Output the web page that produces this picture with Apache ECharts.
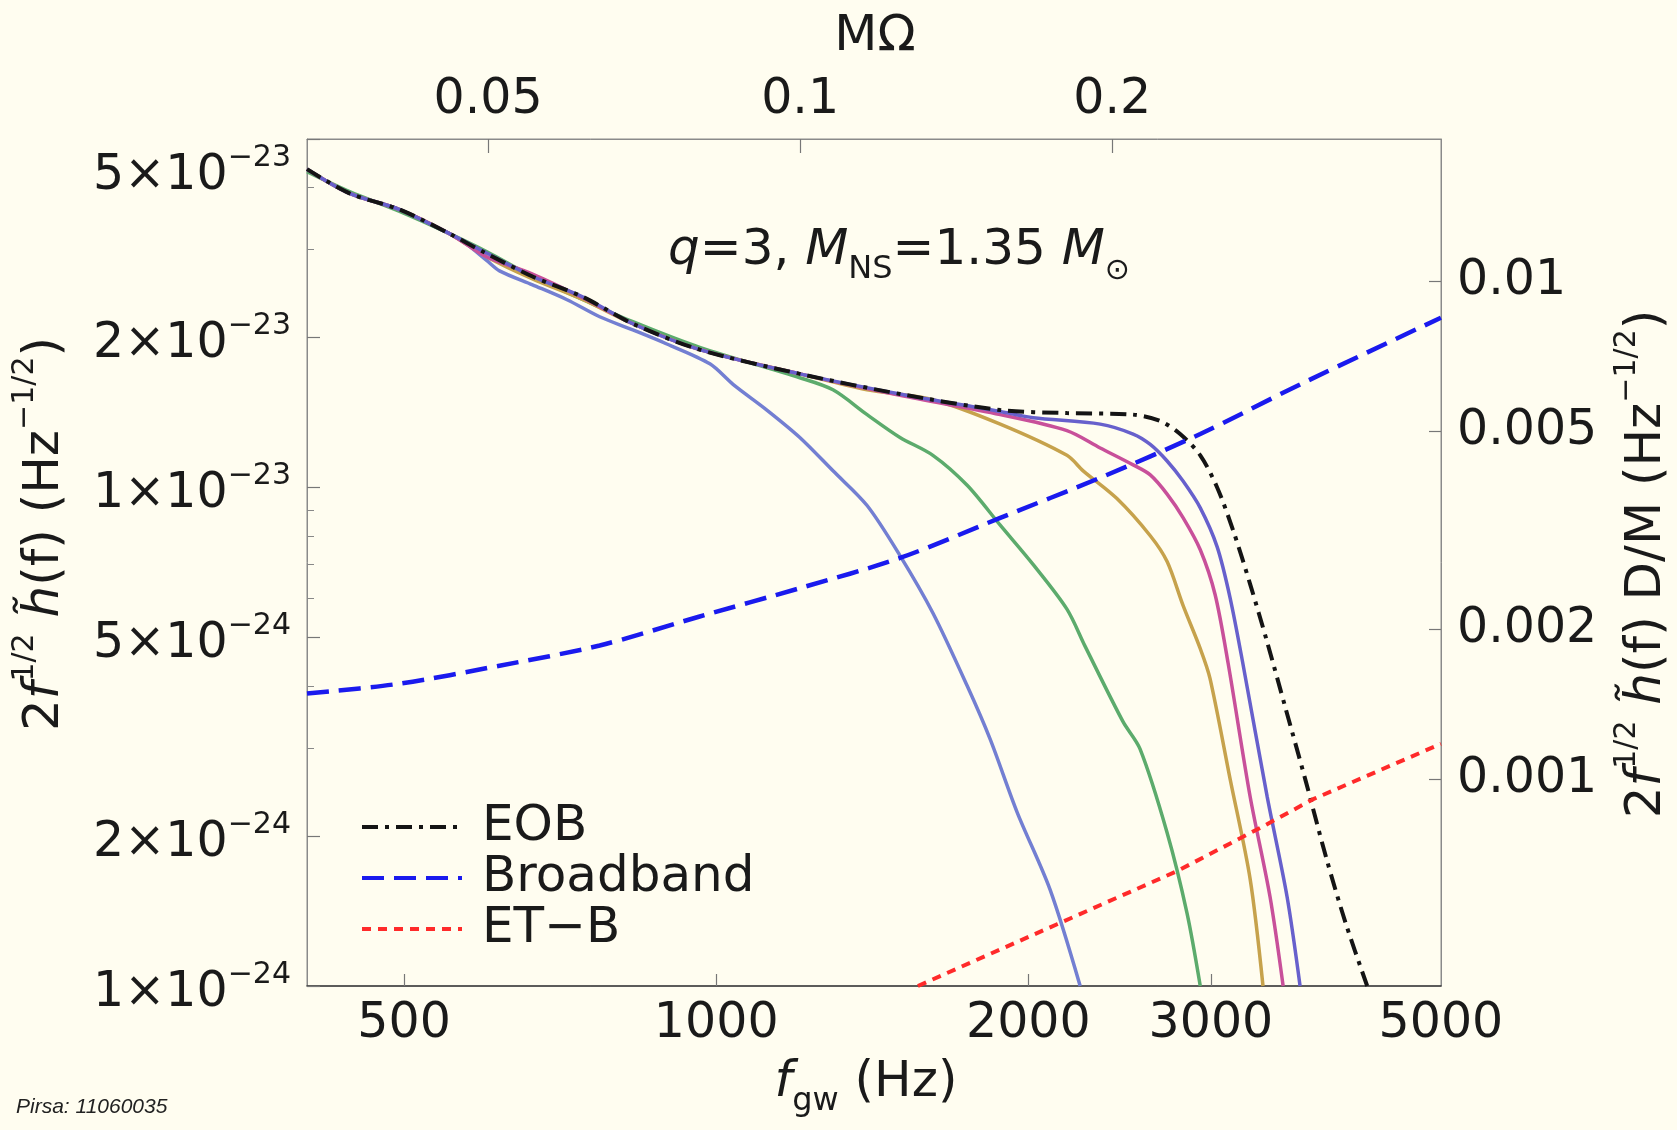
<!DOCTYPE html>
<html>
<head>
<meta charset="utf-8">
<title>q=3 strain spectrum</title>
<script src="https://cdn.jsdelivr.net/npm/echarts@6.0.0/dist/echarts.min.js"></script>
<style>
  html, body { margin: 0; padding: 0; background: #fffdf0; }
  #chart { width: 1677px; height: 1130px; }
</style>
</head>
<body>
<div id="chart"></div>
<script>
// [f (Hz), 2 f^1/2 |h(f)|]
const run1 = [[403, 4.35e-23], [443, 3.89e-23], [495, 3.61e-23], [553, 3.23e-23], [574, 3.08e-23], [601, 2.85e-23], [618, 2.72e-23], [665, 2.55e-23], [718, 2.38e-23], [772, 2.20e-23], [831, 2.07e-23], [896, 1.94e-23], [986, 1.77e-23], [1038, 1.61e-23], [1119, 1.43e-23], [1204, 1.26e-23], [1296, 1.08e-23], [1398, 9.2e-24], [1504, 7.3e-24], [1618, 5.6e-24], [1746, 4.0e-24], [1837, 3.13e-24], [1951, 2.23e-24], [2099, 1.56e-24], [2244, 1.0e-24]];
const run2 = [[403, 4.30e-23], [443, 3.92e-23], [495, 3.58e-23], [553, 3.23e-23], [601, 2.97e-23], [665, 2.65e-23], [744, 2.38e-23], [831, 2.15e-23], [964, 1.91e-23], [1204, 1.66e-23], [1296, 1.57e-23], [1398, 1.40e-23], [1504, 1.26e-23], [1618, 1.16e-23], [1746, 1.01e-23], [1879, 8.4e-24], [2022, 7.0e-24], [2179, 5.7e-24], [2269, 4.8e-24], [2468, 3.39e-24], [2563, 2.99e-24], [2722, 2.03e-24], [2845, 1.40e-24], [2930, 1.0e-24]];
const run3 = [[403, 4.35e-23], [443, 3.89e-23], [495, 3.61e-23], [553, 3.23e-23], [601, 2.90e-23], [665, 2.62e-23], [744, 2.38e-23], [831, 2.13e-23], [964, 1.89e-23], [1204, 1.69e-23], [1398, 1.57e-23], [1618, 1.50e-23], [1879, 1.34e-23], [2179, 1.16e-23], [2259, 1.08e-23], [2435, 9.5e-24], [2622, 8.0e-24], [2722, 7.1e-24], [2820, 5.8e-24], [2930, 4.75e-24], [2994, 4.14e-24], [3131, 2.60e-24], [3273, 1.64e-24], [3368, 1.0e-24]];
const run4 = [[403, 4.35e-23], [443, 3.89e-23], [495, 3.61e-23], [553, 3.23e-23], [601, 2.90e-23], [665, 2.68e-23], [744, 2.40e-23], [831, 2.13e-23], [964, 1.89e-23], [1204, 1.69e-23], [1504, 1.53e-23], [1879, 1.40e-23], [2179, 1.30e-23], [2346, 1.20e-23], [2524, 1.11e-23], [2622, 1.06e-23], [2722, 9.7e-24], [2820, 8.7e-24], [2930, 7.5e-24], [3028, 6.1e-24], [3117, 4.44e-24], [3273, 2.40e-24], [3421, 1.51e-24], [3522, 1.0e-24]];
const run5 = [[403, 4.35e-23], [443, 3.89e-23], [495, 3.61e-23], [553, 3.23e-23], [601, 2.95e-23], [665, 2.65e-23], [744, 2.41e-23], [831, 2.13e-23], [964, 1.89e-23], [1204, 1.69e-23], [1504, 1.54e-23], [1879, 1.42e-23], [2022, 1.38e-23], [2346, 1.34e-23], [2524, 1.28e-23], [2622, 1.22e-23], [2722, 1.13e-23], [2820, 1.03e-23], [2930, 9.1e-24], [3042, 7.6e-24], [3131, 6.0e-24], [3223, 4.4e-24], [3399, 2.40e-24], [3553, 1.51e-24], [3657, 1.0e-24]];
const eobCurve = [[403, 4.35e-23], [443, 3.89e-23], [495, 3.61e-23], [553, 3.23e-23], [596, 2.97e-23], [665, 2.65e-23], [744, 2.41e-23], [831, 2.13e-23], [964, 1.89e-23], [1204, 1.69e-23], [1504, 1.54e-23], [1879, 1.43e-23], [2179, 1.41e-23], [2524, 1.40e-23], [2680, 1.36e-23], [2802, 1.28e-23], [2930, 1.16e-23], [3042, 1.0e-23], [3152, 8.2e-24], [3273, 6.4e-24], [3399, 4.9e-24], [3538, 3.63e-24], [3699, 2.60e-24], [3875, 1.81e-24], [4050, 1.33e-24], [4245, 1.0e-24]];
const broadband = [[403, 3.86e-24], [495, 4.04e-24], [618, 4.39e-24], [772, 4.82e-24], [964, 5.51e-24], [1204, 6.28e-24], [1504, 7.22e-24], [1879, 8.69e-24], [2346, 1.046e-23], [2930, 1.28e-23], [3658, 1.61e-23], [5000, 2.19e-23]];
const etB = [[1565, 1.0e-24], [2132, 1.33e-24], [2783, 1.70e-24], [3368, 2.09e-24], [3765, 2.37e-24], [5000, 3.06e-24]];

// axis ticks
const freqLabels = [500, 1000, 2000, 3000, 5000];
const freqTicks = [500, 1000, 2000, 3000];
const omegaTicks = [0.05, 0.1, 0.2];
const strainTicks = [1e-24, 2e-24, 5e-24, 1e-23, 2e-23, 5e-23];
const strainMinorTicks = [3e-24, 4e-24, 6e-24, 7e-24, 8e-24, 9e-24, 3e-23, 4e-23];
const scaledTicks = [0.001, 0.002, 0.005, 0.01];

const freqRange = [403, 5001];
const strainRange = [0.9999e-24, 5.0005e-23];
const omegaPerHz = 8.3e-5;       // MΩ per Hz
const scaledPerStrain = 3.85e20; // D/M factor for right axis

// the log axis ticks misbehave with values ~1e-24, so plot strain in units of 1e-24
const STRAIN_UNIT = 1e-24;
const toUnit = v => v / STRAIN_UNIT;
const toPlot = pts => pts.map(p => [p[0], toUnit(p[1])]);

const FONT = '"DejaVu Sans", sans-serif';
const INK = '#1a1a1a';
const FRAME = '#8a8a8a';

const chart = echarts.init(document.getElementById('chart'));

function strainLabel(value) {
    const v = value * STRAIN_UNIT;
    const exp = Math.floor(Math.log10(v) + 1e-6);
    const mant = Math.round(v / Math.pow(10, exp));
    const body = '{m|' + mant + '×10}{s|−' + (-exp) + '}';
    // top label sits below the corner
    return v > 4e-23 ? '{gap| }\n' + body : body;
}

function plainNumber(value) {
    return String(Number(value.toPrecision(3)));
}

const textRich = {
    m: { fontFamily: FONT, fontSize: 50, lineHeight: 70 },
    i: { fontFamily: FONT, fontSize: 50, lineHeight: 70, fontStyle: 'italic' },
    s: { fontFamily: FONT, fontSize: 30, lineHeight: 30, verticalAlign: 'top' },
    sub: { fontFamily: FONT, fontSize: 32, lineHeight: 32, verticalAlign: 'bottom' },
    sub2: { fontFamily: FONT, fontSize: 30, lineHeight: 26, verticalAlign: 'bottom' }
};

function textItem(x, y, text, rotation) {
    return {
        type: 'text',
        x: x,
        y: y,
        rotation: rotation || 0,
        silent: true,
        style: {
            text: text,
            rich: textRich,
            fill: INK,
            textAlign: 'center',
            textVerticalAlign: 'middle',
            align: 'center',
            verticalAlign: 'middle'
        }
    };
}

function solid(name, data, color) {
    return {
        name: name,
        type: 'line',
        data: toPlot(data),
        symbol: 'none',
        smooth: 0.3,
        silent: true,
        lineStyle: { color: color, width: 3.5 },
        itemStyle: { color: color }
    };
}

const option = {
    animation: false,
    backgroundColor: '#fffdf0',
    grid: {
        left: 307, right: 236, top: 139, bottom: 144,
        containLabel: false,
        outerBoundsMode: 'none',
        show: true,
        borderColor: FRAME,
        borderWidth: 1,
        backgroundColor: 'transparent'
    },
    legend: {
        data: ['EOB', 'Broadband', 'ET−B'],
        orient: 'vertical',
        left: 360,
        top: 802,
        padding: 0,
        itemGap: 1,
        itemWidth: 100,
        itemHeight: 12,
        selectedMode: false,
        lineStyle: { width: 4 },
        itemStyle: { opacity: 0 },
        textStyle: { fontFamily: FONT, fontSize: 50, lineHeight: 50, color: INK, padding: [0, 0, 0, 15] }
    },
    xAxis: [
        {
            type: 'log',
            position: 'bottom',
            min: freqRange[0],
            max: freqRange[1],
            axisLine: { show: true, onZero: false, lineStyle: { color: '#3a3a3a', width: 1.5 } },
            axisTick: { show: true, inside: true, length: 12, customValues: freqTicks, lineStyle: { color: '#777', width: 1.2 } },
            axisLabel: { customValues: freqLabels, formatter: plainNumber, margin: 14, fontFamily: FONT, fontSize: 49, color: INK },
            splitLine: { show: false },
            minorTick: { show: false }
        },
        {
            type: 'log',
            position: 'top',
            min: freqRange[0] * omegaPerHz,
            max: freqRange[1] * omegaPerHz,
            axisLine: { show: true, onZero: false, lineStyle: { color: FRAME, width: 1 } },
            axisTick: { show: true, inside: true, length: 14, customValues: omegaTicks, lineStyle: { color: '#777', width: 1.2 } },
            axisLabel: { customValues: omegaTicks, formatter: plainNumber, margin: 14, fontFamily: FONT, fontSize: 49, color: INK },
            splitLine: { show: false }
        }
    ],
    yAxis: [
        {
            type: 'log',
            position: 'left',
            min: toUnit(strainRange[0]),
            max: toUnit(strainRange[1]),
            axisLine: { show: true, onZero: false, lineStyle: { color: FRAME, width: 1 } },
            axisTick: { show: true, inside: true, length: 13, customValues: strainTicks.map(toUnit), lineStyle: { color: '#777', width: 1.2 } },
            axisLabel: {
                customValues: strainTicks.map(toUnit),
                formatter: strainLabel,
                margin: 16,
                color: INK,
                rich: {
                    m: { fontFamily: FONT, fontSize: 49, lineHeight: 80, padding: [14, 0, 0, 0], color: INK },
                    s: { fontFamily: FONT, fontSize: 30, lineHeight: 30, padding: [14, 0, 0, 0], verticalAlign: 'top', color: INK },
                    gap: { fontSize: 10, lineHeight: 60 }
                }
            },
            splitLine: { show: false }
        },
        {
            type: 'log',
            position: 'left',
            min: toUnit(strainRange[0]),
            max: toUnit(strainRange[1]),
            axisLine: { show: false },
            axisTick: { show: true, inside: true, length: 7, customValues: strainMinorTicks.map(toUnit), lineStyle: { color: '#888', width: 1 } },
            axisLabel: { show: false },
            splitLine: { show: false }
        },
        {
            type: 'log',
            position: 'right',
            min: strainRange[0] * scaledPerStrain,
            max: strainRange[1] * scaledPerStrain,
            axisLine: { show: true, onZero: false, lineStyle: { color: FRAME, width: 1 } },
            axisTick: { show: true, inside: true, length: 12, customValues: scaledTicks, lineStyle: { color: '#777', width: 1.2 } },
            axisLabel: { customValues: scaledTicks, formatter: plainNumber, margin: 16, fontFamily: FONT, fontSize: 49, color: INK },
            splitLine: { show: false }
        }
    ],
    series: [
        solid('run 1', run1, '#737fd2'),
        solid('run 2', run2, '#5cab6c'),
        solid('run 3', run3, '#c6a24c'),
        solid('run 4', run4, '#c8509a'),
        solid('run 5', run5, '#6760cc'),
        {
            name: 'EOB',
            type: 'line',
            data: toPlot(eobCurve),
            symbol: 'none',
            smooth: 0.3,
            silent: true,
            lineStyle: { color: '#141414', width: 4, type: [16, 7, 4, 7] },
            itemStyle: { color: '#141414' }
        },
        {
            name: 'Broadband',
            type: 'line',
            data: toPlot(broadband),
            symbol: 'none',
            smooth: 0.3,
            silent: true,
            lineStyle: { color: '#1a1aee', width: 4.5, type: [22, 10] },
            itemStyle: { color: '#1a1aee' }
        },
        {
            name: 'ET−B',
            type: 'line',
            data: toPlot(etB),
            symbol: 'none',
            silent: true,
            lineStyle: { color: '#ff2a2a', width: 4, type: [9, 7] },
            itemStyle: { color: '#ff2a2a' }
        }
    ],
    graphic: [
        textItem(45, 534, '{m|2}{i|f}{s|1/2}{m| }{i|h̃}{m|(f) (Hz}{s|−1/2}{m|)}', Math.PI / 2),
        textItem(1647, 564, '{m|2}{i|f}{s|1/2}{m| }{i|h̃}{m|(f) D/M (Hz}{s|−1/2}{m|)}', Math.PI / 2),
        textItem(866, 1083, '{i|f}{sub|gw}{m| (Hz)}'),
        textItem(875, 37, '{m|MΩ}'),
        textItem(899, 251, '{i|q}{m|=3, }{i|M}{sub|NS}{m|=1.35 }{i|M}{sub2|⊙}'),
        {
            type: 'text',
            x: 16,
            y: 1107,
            silent: true,
            style: {
                text: 'Pirsa: 11060035',
                font: 'italic 21px "Liberation Sans", sans-serif',
                fill: '#222',
                textAlign: 'left',
                textVerticalAlign: 'middle',
                align: 'left',
                verticalAlign: 'middle'
            }
        }
    ]
};

chart.setOption(option);
</script>
</body>
</html>
